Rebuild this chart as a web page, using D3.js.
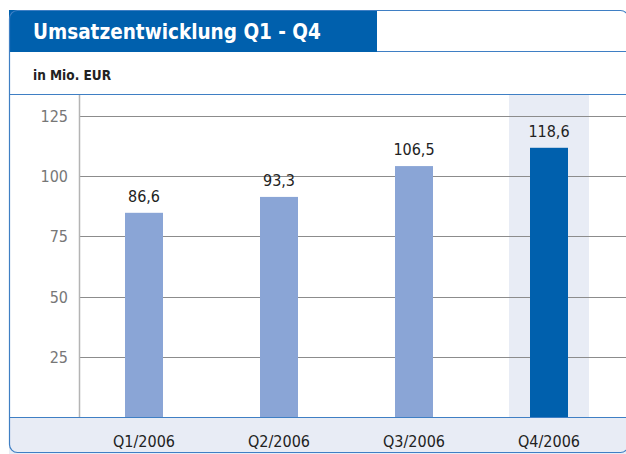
<!DOCTYPE html>
<html>
<head>
<meta charset="utf-8">
<script src="https://cdn.jsdelivr.net/npm/d3@7"></script>
<style>
  body { margin: 0; background: #fff; }
  svg { display: block; }
</style>
</head>
<body>
<div id="container"></div>
<script>
const w = 626
const h = 454

// data
const quarters = ['Q1/2006', 'Q2/2006', 'Q3/2006', 'Q4/2006']
const values = [84.8, 91.4, 104.2, 111.8]
const valueLabels = ['86,6', '93,3', '106,5', '118,6']
const yTicks = [25, 50, 75, 100, 125]
const highlight = 'Q4/2006'

const blue = '#0060ad'
const light = '#8aa5d6'
const pale = '#e8ecf5'
const font = '"DejaVu Sans Condensed", "Liberation Sans Narrow", sans-serif'

const svg = d3.select('div#container')
  .append('svg')
  .attr('width', w)
  .attr('height', h)
  .style('font-family', font)

const plotTop = 95
const plotBottom = 417

const x = d3.scaleBand()
  .domain(quarters)
  .range([76.5, 616.5])

const y = d3.scaleLinear()
  .domain([0, 125])
  .range([plotBottom, 116])

// bottom band behind category labels
svg.append('rect')
  .attr('x', 9)
  .attr('y', plotBottom)
  .attr('width', 617)
  .attr('height', h - plotBottom)
  .attr('fill', pale)

// highlight column behind the last quarter
svg.append('rect')
  .attr('x', x(highlight) + x.bandwidth() / 2 - 40)
  .attr('y', plotTop)
  .attr('width', 80)
  .attr('height', plotBottom - plotTop)
  .attr('fill', pale)

// gridlines + tick labels
const grid = svg.append('g')
grid.selectAll('line')
  .data(yTicks)
  .enter().append('line')
  .attr('x1', 79)
  .attr('x2', 626)
  .attr('y1', d => Math.round(y(d)) + 0.5)
  .attr('y2', d => Math.round(y(d)) + 0.5)
  .attr('stroke', '#8c8c8c')
  .attr('stroke-width', 1)

grid.selectAll('text')
  .data(yTicks)
  .enter().append('text')
  .attr('x', 68)
  .attr('y', d => y(d) + 6)
  .attr('text-anchor', 'end')
  .attr('fill', '#777')
  .style('font-size', '16px')
  .text(d => d)

// y axis line
svg.append('line')
  .attr('x1', 79.5).attr('x2', 79.5)
  .attr('y1', plotTop).attr('y2', plotBottom)
  .attr('stroke', '#b4b4b4')
  .attr('stroke-width', 1.5)

// bars
svg.append('g')
  .selectAll('rect')
  .data(quarters)
  .enter().append('rect')
  .attr('x', d => x(d) + x.bandwidth() / 2 - 19)
  .attr('y', (d, i) => y(values[i]))
  .attr('width', 38)
  .attr('height', (d, i) => plotBottom - y(values[i]))
  .attr('fill', d => d === highlight ? blue : light)

// value labels
svg.append('g')
  .selectAll('text')
  .data(quarters)
  .enter().append('text')
  .attr('x', d => x(d) + x.bandwidth() / 2)
  .attr('y', (d, i) => y(values[i]) - 11)
  .attr('text-anchor', 'middle')
  .attr('fill', '#222')
  .style('font-size', '16px')
  .text((d, i) => valueLabels[i])

// category labels
svg.append('g')
  .selectAll('text')
  .data(quarters)
  .enter().append('text')
  .attr('x', d => x(d) + x.bandwidth() / 2)
  .attr('y', 447)
  .attr('text-anchor', 'middle')
  .attr('fill', '#222')
  .style('font-size', '16px')
  .text(d => d)

// baseline
svg.append('line')
  .attr('x1', 9).attr('x2', 626)
  .attr('y1', plotBottom + 0.5).attr('y2', plotBottom + 0.5)
  .attr('stroke', '#3f7fc4')
  .attr('stroke-width', 1.2)

// header: title bar and subtitle
svg.append('rect')
  .attr('x', 9)
  .attr('y', 10)
  .attr('width', 368)
  .attr('height', 42)
  .attr('fill', blue)

svg.append('text')
  .attr('x', 33)
  .attr('y', 39)
  .attr('fill', '#fff')
  .style('font-size', '20.5px')
  .style('font-weight', 'bold')
  .text('Umsatzentwicklung Q1 - Q4')

svg.append('line')
  .attr('x1', 377).attr('x2', 626)
  .attr('y1', 51.5).attr('y2', 51.5)
  .attr('stroke', '#3f7fc4')

svg.append('text')
  .attr('x', 33)
  .attr('y', 80)
  .attr('fill', '#222')
  .style('font-size', '13.5px')
  .style('font-weight', 'bold')
  .text('in Mio. EUR')

svg.append('line')
  .attr('x1', 9).attr('x2', 626)
  .attr('y1', 94.5).attr('y2', 94.5)
  .attr('stroke', '#3f7fc4')

// outer frame with rounded corners, right edge runs off the picture
svg.append('rect')
  .attr('x', 9.5)
  .attr('y', 10.5)
  .attr('width', 619)
  .attr('height', 442)
  .attr('rx', 8)
  .attr('fill', 'none')
  .attr('stroke', '#3f7fc4')
  .attr('stroke-width', 1.2)
</script>
</body>
</html>
